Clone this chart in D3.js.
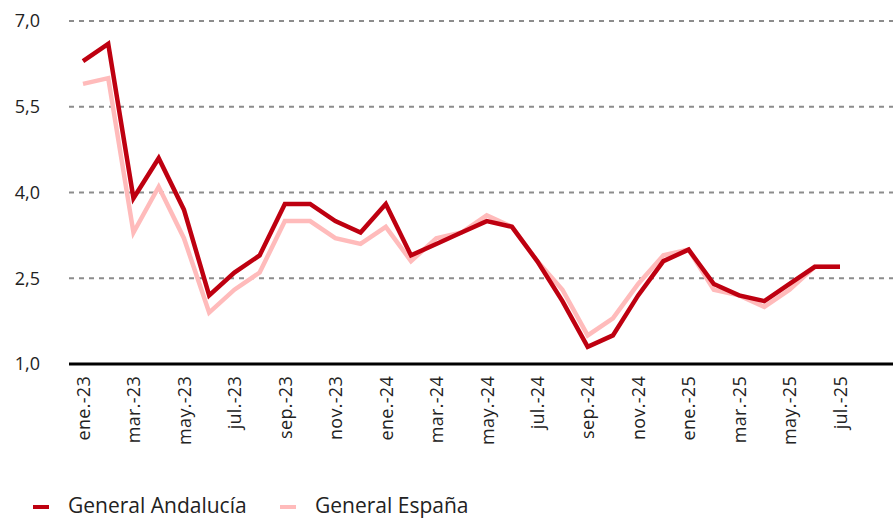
<!DOCTYPE html>
<html><head><meta charset="utf-8">
<script src="https://cdn.jsdelivr.net/npm/d3@7"></script>
<style>body{margin:0;background:#fff}svg{display:block}text{font-family:"Open Sans",Lato,sans-serif}</style>
</head><body><svg id="c" width="893" height="518"></svg>
<script>
const categories = ["ene.-23","feb.-23","mar.-23","abr.-23","may.-23","jun.-23","jul.-23","ago.-23","sep.-23","oct.-23","nov.-23","dic.-23",
"ene.-24","feb.-24","mar.-24","abr.-24","may.-24","jun.-24","jul.-24","ago.-24","sep.-24","oct.-24","nov.-24","dic.-24",
"ene.-25","feb.-25","mar.-25","abr.-25","may.-25","jun.-25","jul.-25"];
const andalucia = [6.3,6.6,3.9,4.6,3.7,2.2,2.6,2.9,3.8,3.8,3.5,3.3,3.8,2.9,3.1,3.3,3.5,3.4,2.8,2.1,1.3,1.5,2.2,2.8,3.0,2.4,2.2,2.1,2.4,2.7,2.7];
const espana = [5.9,6.0,3.3,4.1,3.2,1.9,2.3,2.6,3.5,3.5,3.2,3.1,3.4,2.8,3.2,3.3,3.6,3.4,2.8,2.3,1.5,1.8,2.4,2.9,3.0,2.3,2.2,2.0,2.3,2.7,2.7];
const yTicks = [1.0,2.5,4.0,5.5,7.0];
const seriesNames = ["General Andalucía","General España"];
const colors = ["#BE0010","#FFBBBB"];

const svg = d3.select("#c");
const m = {l:69, r:893, t:21, b:364};
const x = d3.scalePoint().domain(categories).range([83, 840]);
const y = d3.scaleLinear().domain([1,7]).range([m.b, m.t]);
const fmt = v => d3.format(".1f")(v).replace(".", ",");

// grid
svg.append("g").selectAll("line").data(yTicks.filter(t=>t>1)).join("line")
  .attr("x1", m.l).attr("x2", m.r).attr("y1", d=>y(d)).attr("y2", d=>y(d))
  .attr("stroke","#8c8c8c").attr("stroke-width",2).attr("stroke-dasharray","5,5");

// y axis
const ya = svg.append("g").attr("transform",`translate(${m.l},0)`)
  .call(d3.axisLeft(y).tickValues(yTicks).tickFormat(fmt).tickSize(0).tickPadding(29));
ya.select(".domain").remove();
ya.selectAll("text").attr("font-size",18).attr("fill","#222").attr("dy","0.32em");

// x axis
const xa = svg.append("g").attr("transform",`translate(0,${m.b})`)
  .call(d3.axisBottom(x).tickValues(categories.filter((d,i)=>i%2===0)).tickSize(0));
xa.select(".domain").remove();
xa.append("line").attr("x1",m.l).attr("x2",m.r).attr("stroke","#000").attr("stroke-width",3);
xa.selectAll(".tick text").attr("font-size",18).attr("fill","#222").attr("letter-spacing","0.3px")
  .attr("transform","rotate(-90)").attr("text-anchor","end")
  .attr("x",-12).attr("y",0).attr("dy","0.35em");

const line = d3.line().x((d,i)=>x(categories[i])).y(d=>y(d));
[espana, andalucia].forEach((s,k)=>{
  svg.append("path").datum(s).attr("d",line).attr("fill","none")
    .attr("stroke", k===0?colors[1]:colors[0]).attr("stroke-width",4.5)
    .attr("stroke-linejoin","miter");
});

// legend
const lg = svg.append("g");
const lx = [33, 280];
seriesNames.forEach((n,i)=>{
  lg.append("line").attr("x1",lx[i]).attr("x2",lx[i]+16).attr("y1",507).attr("y2",507)
    .attr("stroke",colors[i]).attr("stroke-width",4);
  lg.append("text").attr("x",lx[i]+35).attr("y",513)
    .attr("font-size",21).attr("fill","#222").text(n);
});
</script></body></html>
